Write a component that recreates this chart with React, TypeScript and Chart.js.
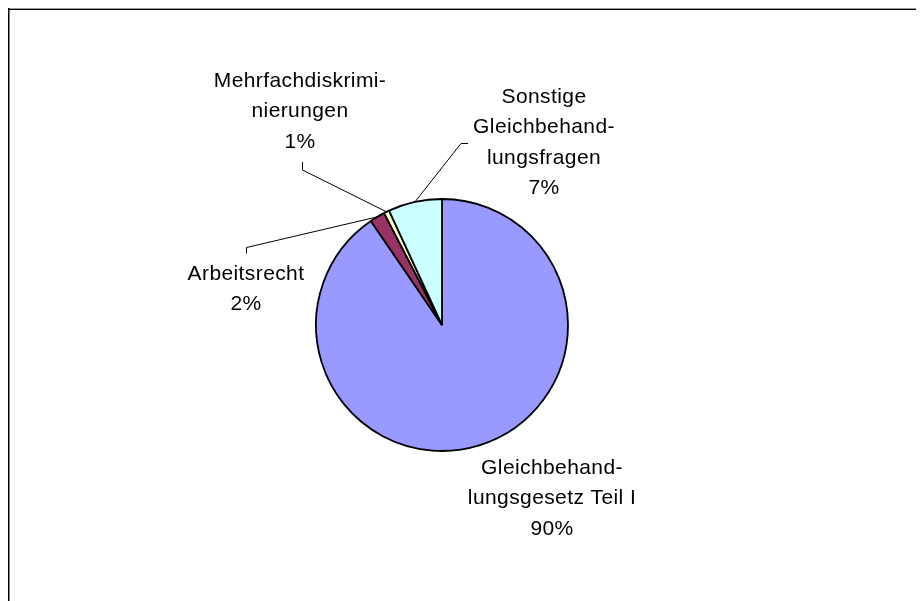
import React, { useEffect, useRef } from "react";
import { Chart, registerables } from "chart.js";

Chart.register(...registerables);

const categories = [
  "Gleichbehandlungsgesetz Teil I",
  "Arbeitsrecht",
  "Mehrfachdiskriminierungen",
  "Sonstige Gleichbehandlungsfragen",
];
const shares = [90.45, 1.95, 0.7, 6.9];
const percentLabels = ["90%", "2%", "1%", "7%"];
const labelLines = [
  ["Gleichbehand-", "lungsgesetz Teil I"],
  ["Arbeitsrecht"],
  ["Mehrfachdiskrimi-", "nierungen"],
  ["Sonstige", "Gleichbehand-", "lungsfragen"],
];
const sliceColors = ["#9999FF", "#993366", "#FFFFCC", "#CCFFFF"];

// label layout (canvas coordinates): text centre x, first line centre y,
// leader: [elbow point, end point] (null = no leader)
const labelLayout = [
  { x: 544, y: 460, leader: null as null | number[][] },
  { x: 238, y: 266, leader: [[238.5, 239.5], [238.5, 245.5]] },
  { x: 292, y: 73, leader: [[294.5, 162], [294.5, 154]] },
  { x: 536, y: 89, leader: [[453, 135.5], [460, 135.5]] },
];
const LINE_H = 30.5;

const labelPlugin = {
  id: "pieLabels",
  beforeDraw(chart: any) {
    const ctx = chart.ctx;
    ctx.save();
    ctx.fillStyle = "#9a9a9a";
    ctx.fillRect(0, 0, chart.width, 1);
    ctx.fillStyle = "#000";
    ctx.fillRect(0, 1, chart.width, 1);
    ctx.fillRect(0, 0, 1.5, chart.height);
    ctx.restore();
  },
  afterDraw(chart: any) {
    const ctx = chart.ctx;
    const meta = chart.getDatasetMeta(0);
    ctx.save();
    ctx.font = '21px "Liberation Sans", Arial, sans-serif';
    (ctx as any).letterSpacing = "0.4px";
    ctx.fillStyle = "#000";
    ctx.textAlign = "center";
    ctx.textBaseline = "middle";
    meta.data.forEach((arc: any, i: number) => {
      const lay = labelLayout[i];
      const lines = [...labelLines[i], percentLabels[i]];
      lines.forEach((t, k) => {
        ctx.fillText(t, lay.x, lay.y + k * LINE_H);
      });
      if (lay.leader) {
        const p = arc.getProps(["x", "y", "startAngle", "endAngle", "outerRadius"], true);
        const mid = (p.startAngle + p.endAngle) / 2;
        const ax = p.x + Math.cos(mid) * p.outerRadius;
        const ay = p.y + Math.sin(mid) * p.outerRadius;
        ctx.beginPath();
        ctx.strokeStyle = "#000";
        ctx.lineWidth = 1;
        ctx.moveTo(lay.leader[1][0], lay.leader[1][1]);
        ctx.lineTo(lay.leader[0][0], lay.leader[0][1]);
        ctx.lineTo(ax, ay);
        ctx.stroke();
      }
    });
    ctx.restore();
  },
};

export default function App() {
  const ref = useRef<HTMLCanvasElement>(null);
  useEffect(() => {
    if (!ref.current) return;
    const chart = new Chart(ref.current, {
      type: "pie",
      data: {
        labels: categories,
        datasets: [
          {
            data: shares,
            backgroundColor: sliceColors,
            borderColor: "#000",
            borderWidth: 1.8,
            radius: 126,
          } as any,
        ],
      },
      options: {
        responsive: false,
        animation: false,
        layout: { padding: { left: 0, right: 48, top: 41, bottom: 0 } },
        plugins: {
          legend: { display: false },
          tooltip: { enabled: false },
        },
      },
      plugins: [labelPlugin],
    });
    return () => chart.destroy();
  }, []);
  return (
    <div style={{ width: 916, height: 593 }}>
      <canvas ref={ref} width={916} height={593} />
    </div>
  );
}
